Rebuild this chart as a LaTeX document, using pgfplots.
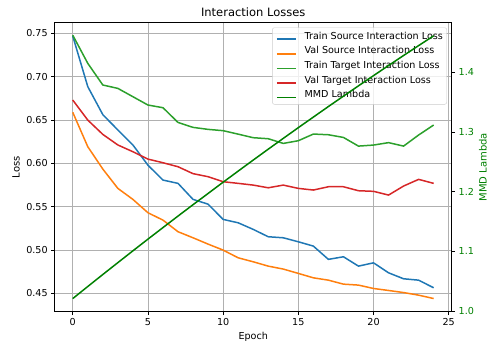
\documentclass[border=0pt]{standalone}
\usepackage{fontspec}
\setmainfont{DejaVu Sans}
\usepackage{pgfplots}
\pgfplotsset{compat=1.18}

\definecolor{tabblue}{HTML}{1F77B4}
\definecolor{taborange}{HTML}{FF7F0E}
\definecolor{tabgreen}{HTML}{2CA02C}
\definecolor{tabred}{HTML}{D62728}
\definecolor{mmdgreen}{HTML}{008000}
\definecolor{gridgray}{HTML}{B0B0B0}
\definecolor{legendedge}{HTML}{CCCCCC}

\tikzset{lossline/.style={line width=1.5pt, line join=round}}

\pgfplotsset{
  common/.style={
    at={(0pt,0pt)}, anchor=south west,
    scale only axis, width=397pt, height=289pt,
    xmin=-1.2, xmax=25.2,
    /pgf/number format/assume math mode=true,
    tick label style={font=\fontsize{9.6}{11}\selectfont, inner sep=0pt},
    label style={font=\fontsize{9.6}{11}\selectfont, inner sep=0pt},
    tick align=outside,
    major tick length=3.4pt,
    every tick/.style={black, line width=0.77pt},
    axis line style={line width=0.77pt},
  },
}

\begin{document}
\begin{tikzpicture}
\useasboundingbox (-54.7pt,-37.3pt) rectangle (440.3pt,311.7pt);

% Loss curves (left axis)
\begin{axis}[
  common,
  ymin=0.4289, ymax=0.7624,
  xtick={0,5,10,15,20,25},
  ytick={0.45,0.50,0.55,0.60,0.65,0.70,0.75},
  y tick label style={/pgf/number format/fixed, /pgf/number format/fixed zerofill,
    /pgf/number format/precision=2},
  xtick pos=bottom, ytick pos=left,
  xticklabel style={yshift=-3.4pt},
  yticklabel style={xshift=-3.4pt},
  grid=major,
  major grid style={color=gridgray, line width=0.77pt},
  title={Interaction Losses},
  title style={at={(0.5,1)}, anchor=base, yshift=-0.2pt, inner sep=0pt,
    font=\fontsize{11.5}{13}\selectfont},
  xlabel={Epoch},
  xlabel style={at={(0.5,0)}, anchor=base, yshift=-27.6pt},
  ylabel={Loss},
  every axis y label/.style={at={(rel axis cs:0,0.5)}, xshift=-35pt, rotate=90, anchor=base},
  legend cell align=left,
  legend image code/.code={\draw[#1] (0pt,0pt) -- (19.2pt,0pt);},
  legend style={
    at={(1,1)}, anchor=north east, xshift=-4.8pt, yshift=-4.8pt,
    draw=legendedge, rounded corners=2pt,
    fill=white, fill opacity=0.8, draw opacity=1, text opacity=1,
    font=\fontsize{9.6}{11}\selectfont,
    inner xsep=3.8pt, inner ysep=4.3pt,
    row sep=5pt, column sep=7.7pt,
    nodes={inner sep=0pt, text height=7.2pt, text depth=2.4pt, anchor=base west},
  },
]
\addplot[tabblue, line width=1.5pt, line join=round] coordinates {
  (0,0.7470) (1,0.6886) (2,0.6563) (3,0.6386) (4,0.6213) (5,0.5980)
  (6,0.5808) (7,0.5770) (8,0.5585) (9,0.5530) (10,0.5354) (11,0.5315)
  (12,0.5239) (13,0.5154) (14,0.5142) (15,0.5096) (16,0.5046) (17,0.4893)
  (18,0.4923) (19,0.4815) (20,0.4853) (21,0.4738) (22,0.4669) (23,0.4653)
  (24,0.4565)};
\addlegendentry{Train Source Interaction Loss}
\addplot[taborange, line width=1.5pt, line join=round] coordinates {
  (0,0.6590) (1,0.6193) (2,0.5935) (3,0.5712) (4,0.5585) (5,0.5431)
  (6,0.5346) (7,0.5212) (8,0.5142) (9,0.5069) (10,0.5000) (11,0.4911)
  (12,0.4865) (13,0.4815) (14,0.4781) (15,0.4731) (16,0.4680) (17,0.4653)
  (18,0.4607) (19,0.4596) (20,0.4557) (21,0.4534) (22,0.4510) (23,0.4480)
  (24,0.4441)};
\addlegendentry{Val Source Interaction Loss}
\addplot[tabgreen, line width=1.5pt, line join=round] coordinates {
  (0,0.7480) (1,0.7155) (2,0.6905) (3,0.6866) (4,0.6770) (5,0.6674)
  (6,0.6643) (7,0.6473) (8,0.6416) (9,0.6393) (10,0.6378) (11,0.6338)
  (12,0.6297) (13,0.6285) (14,0.6231) (15,0.6262) (16,0.6339) (17,0.6331)
  (18,0.6300) (19,0.6200) (20,0.6212) (21,0.6240) (22,0.6200) (23,0.6328)
  (24,0.6443)};
\addlegendentry{Train Target Interaction Loss}
\addplot[tabred, line width=1.5pt, line join=round] coordinates {
  (0,0.6732) (1,0.6500) (2,0.6335) (3,0.6213) (4,0.6135) (5,0.6050)
  (6,0.6008) (7,0.5962) (8,0.5882) (9,0.5847) (10,0.5789) (11,0.5770)
  (12,0.5750) (13,0.5719) (14,0.5750) (15,0.5712) (16,0.5693) (17,0.5731)
  (18,0.5731) (19,0.5685) (20,0.5678) (21,0.5635) (22,0.5739) (23,0.5816)
  (24,0.5770)};
\addlegendentry{Val Target Interaction Loss}
\addlegendimage{mmdgreen, line width=1.5pt}
\addlegendentry{MMD Lambda}
\end{axis}

% MMD weight schedule (right axis)
\begin{axis}[
  common,
  ymin=0.9988, ymax=1.4835,
  hide x axis,
  axis y line*=right,
  ytick={1.0,1.1,1.2,1.3,1.4},
  y tick label style={/pgf/number format/fixed, /pgf/number format/fixed zerofill,
    /pgf/number format/precision=1},
  yticklabel style={xshift=3.4pt, color=mmdgreen},
  ylabel={MMD Lambda},
  every axis y label/.style={at={(rel axis cs:1,0.5)}, xshift=35pt, rotate=90, anchor=base, color=mmdgreen},
]
\addplot[mmdgreen, line width=1.5pt, line join=round] coordinates {
  (0,1.0208) (1,1.0411) (2,1.0612) (3,1.0811) (4,1.1009) (5,1.1205)
  (6,1.1399) (7,1.1592) (8,1.1783) (9,1.1971) (10,1.2160) (11,1.2346)
  (12,1.2531) (13,1.2714) (14,1.2895) (15,1.3075) (16,1.3252) (17,1.3429)
  (18,1.3603) (19,1.3776) (20,1.3947) (21,1.4117) (22,1.4285) (23,1.4451)
  (24,1.4615)};
\end{axis}
\end{tikzpicture}
\end{document}
